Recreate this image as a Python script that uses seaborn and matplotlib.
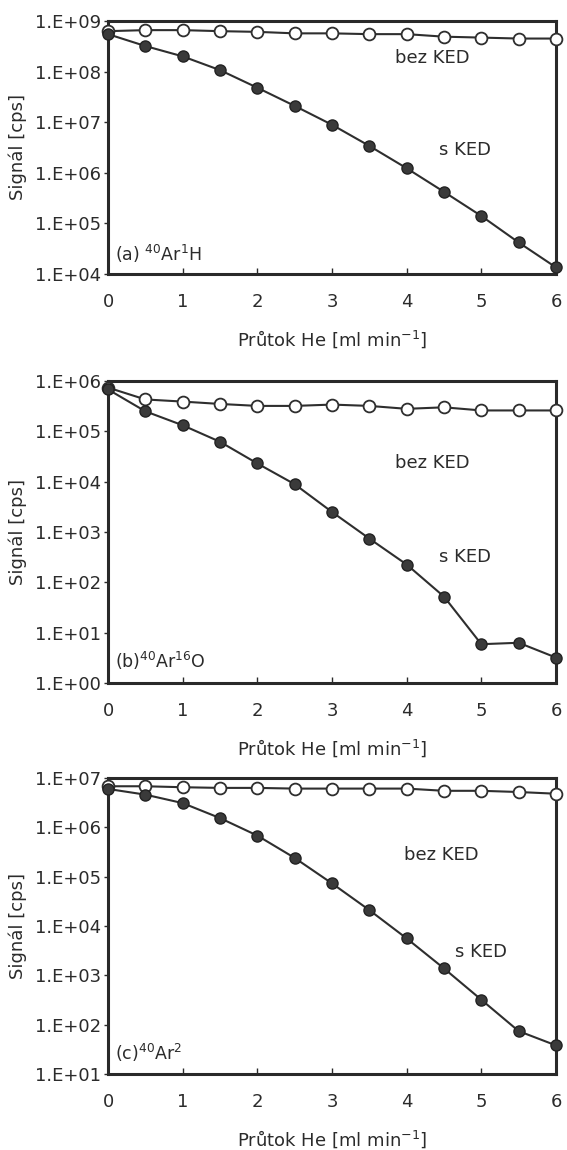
import numpy as np
import pandas as pd
import matplotlib
matplotlib.use("Agg")
import matplotlib.pyplot as plt
import seaborn as sns
from matplotlib.ticker import FixedLocator, FixedFormatter, NullLocator

# ---------------- data ----------------
flow = [0, 0.5, 1, 1.5, 2, 2.5, 3, 3.5, 4, 4.5, 5, 5.5, 6]

# (a) 40Ar1H
a_bez = [6.3e8, 6.6e8, 6.6e8, 6.3e8, 6.1e8, 5.7e8, 5.7e8, 5.5e8, 5.5e8, 4.9e8, 4.7e8, 4.5e8, 4.5e8]
a_s = [5.5e8, 3.2e8, 2.0e8, 1.07e8, 4.8e7, 2.1e7, 8.9e6, 3.4e6, 1.23e6, 4.2e5, 1.4e5, 4.2e4, 1.35e4]

# (b) 40Ar16O
b_bez = [7.4e5, 4.3e5, 3.9e5, 3.5e5, 3.2e5, 3.2e5, 3.4e5, 3.2e5, 2.8e5, 3.0e5, 2.6e5, 2.6e5, 2.6e5]
b_s = [6.8e5, 2.5e5, 1.32e5, 6.2e4, 2.3e4, 8.9e3, 2.5e3, 7.4e2, 2.26e2, 52, 5.9, 6.3, 3.2]

# (c) 40Ar2
c_bez = [6.8e6, 6.8e6, 6.5e6, 6.3e6, 6.3e6, 6.1e6, 6.1e6, 6.1e6, 6.1e6, 5.5e6, 5.5e6, 5.2e6, 4.8e6]
c_s = [6.0e6, 4.6e6, 3.1e6, 1.54e6, 6.8e5, 2.4e5, 7.3e4, 2.1e4, 5.6e3, 1.38e3, 3.2e2, 74, 38]

x_ticks = [0, 1, 2, 3, 4, 5, 6]
x_ticklabels = ["0", "1", "2", "3", "4", "5", "6"]

a_exps = [4, 5, 6, 7, 8, 9]
b_exps = [0, 1, 2, 3, 4, 5, 6]
c_exps = [1, 2, 3, 4, 5, 6, 7]

panel_labels = [r"(a) $^{40}$Ar$^{1}$H", r"(b)$^{40}$Ar$^{16}$O", r"(c)$^{40}$Ar$^{2}$"]
series_labels = ["bez KED", "s KED"]
# positions of the in-plot series labels (data coords)
a_text = [(4.34, 10**8.27), (4.78, 10**6.45)]
b_text = [(4.34, 10**4.37), (4.78, 10**2.5)]
c_text = [(4.46, 10**5.44), (4.99, 10**3.47)]

xlabel = r"Průtok He [ml min$^{-1}$]"
ylabel = "Signál [cps]"

# ---------------- style ----------------
sns.set_theme(style="white")
plt.rcParams["font.family"] = ["DejaVu Sans"]
plt.rcParams["mathtext.default"] = "regular"
TXT = "#2b2b2b"
LINE = "#2e2e2e"

fig = plt.figure(figsize=(5.67, 11.5), dpi=100)

W, H = 567.0, 1150.0
left_px, right_px = 108, 556
panels_px = [(21, 274), (381, 683), (778, 1074)]

datasets = [
    (a_bez, a_s, a_exps, a_text),
    (b_bez, b_s, b_exps, b_text),
    (c_bez, c_s, c_exps, c_text),
]

for i, ((top, bot), (bez, s, exps, txt)) in enumerate(zip(panels_px, datasets)):
    ax = fig.add_axes([left_px / W, 1 - bot / H, (right_px - left_px) / W, (bot - top) / H])
    df = pd.DataFrame({"flow": flow, "bez": bez, "s": s})
    sns.lineplot(data=df, x="flow", y="bez", ax=ax, color=LINE, lw=1.5,
                 marker="o", markersize=8.5, markerfacecolor="white",
                 markeredgecolor=LINE, markeredgewidth=1.3, zorder=3, clip_on=False)
    sns.lineplot(data=df, x="flow", y="s", ax=ax, color=LINE, lw=1.5,
                 marker="o", markersize=8, markerfacecolor="#3a3a3a",
                 markeredgecolor="#222222", markeredgewidth=1.0, zorder=4, clip_on=False)
    ax.set_yscale("log")
    ax.set_xlim(0, 6)
    ax.set_ylim(10.0 ** exps[0], 10.0 ** exps[-1])
    ax.yaxis.set_major_locator(FixedLocator([10.0 ** e for e in exps]))
    ax.yaxis.set_major_formatter(FixedFormatter(["1.E+%02d" % e for e in exps]))
    ax.yaxis.set_minor_locator(NullLocator())
    ax.set_xticks(x_ticks)
    ax.set_xticklabels(x_ticklabels)
    ax.tick_params(axis="x", direction="in", length=4, width=1, pad=14,
                   labelsize=13, colors=TXT, bottom=True)
    ax.tick_params(axis="y", direction="out", length=3, width=1, pad=2,
                   labelsize=13, colors=TXT, left=True)
    for sp in ax.spines.values():
        sp.set_linewidth(2.2)
        sp.set_color("#2a2a2a")
    ax.set_xlabel(xlabel, fontsize=13, color=TXT, labelpad=12)
    ax.set_ylabel(ylabel, fontsize=13, color=TXT, labelpad=6)
    ax.text(0.015, 0.035, panel_labels[i], transform=ax.transAxes,
            fontsize=12.5, color=TXT, ha="left", va="bottom")
    for (tx, ty), lab in zip(txt, series_labels):
        ax.text(tx, ty, lab, fontsize=13, color=TXT, ha="center", va="center")

fig.savefig("out.png", dpi=100)
